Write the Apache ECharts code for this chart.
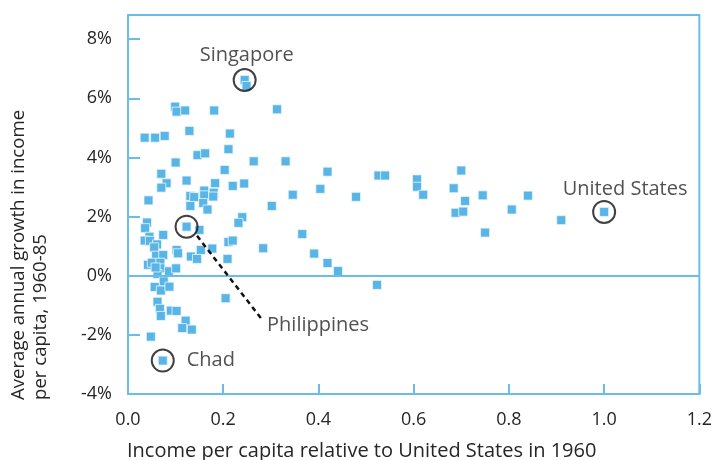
<!DOCTYPE html>
<html>
<head>
<meta charset="utf-8">
<script src="https://cdn.jsdelivr.net/npm/echarts@6/dist/echarts.min.js"></script>
<style>html,body{margin:0;padding:0;background:#fff}#c{width:715px;height:460px}</style>
</head>
<body>
<div id="c"></div>
<script>
// Income per capita relative to US in 1960 (x) vs average annual growth 1960-85 in % (y)
const incomeRel = [
0.099,0.102,0.120,0.181,0.129,0.035,0.057,0.077,0.214,0.211,
0.146,0.162,0.100,0.203,0.264,0.070,0.123,0.081,0.070,0.183,
0.220,0.244,0.160,0.180,0.131,0.139,0.160,0.179,0.043,0.158,
0.131,0.167,0.240,0.232,0.302,0.245,0.249,0.313,0.331,0.419,
0.526,0.540,0.607,0.607,0.620,0.404,0.346,0.479,0.366,0.284,
0.391,0.419,0.441,0.523,0.700,0.684,0.708,0.745,0.840,0.688,
0.704,0.806,0.910,1.000,0.750,0.040,0.036,0.123,0.150,0.074,
0.045,0.035,0.046,0.061,0.055,0.102,0.153,0.177,0.211,0.220,
0.059,0.074,0.132,0.145,0.209,0.042,0.050,0.068,0.068,0.086,
0.101,0.105,0.062,0.075,0.056,0.069,0.087,0.205,0.062,0.067,
0.090,0.102,0.069,0.121,0.114,0.134,0.048,0.073,0.058
];
const growth = [
5.72,5.55,5.59,5.59,4.90,4.67,4.67,4.73,4.81,4.28,
4.08,4.14,3.83,3.58,3.87,3.45,3.22,3.13,2.98,3.13,
3.04,3.12,2.88,2.81,2.70,2.66,2.72,2.68,2.55,2.46,
2.36,2.24,1.98,1.79,2.36,6.62,6.42,5.63,3.87,3.52,
3.39,3.39,3.26,3.01,2.74,2.94,2.74,2.67,1.41,0.93,
0.75,0.43,0.16,-0.31,3.56,2.96,2.53,2.72,2.71,2.13,
2.17,2.24,1.88,2.16,1.46,1.80,1.61,1.66,1.55,1.38,
1.32,1.19,1.18,1.06,0.96,0.87,0.87,0.92,1.14,1.19,
0.68,0.70,0.65,0.57,0.57,0.37,0.44,0.44,0.25,0.15,
0.25,0.76,0.06,-0.19,-0.38,-0.50,-0.37,-0.76,-0.88,-1.12,
-1.18,-1.19,-1.36,-1.52,-1.77,-1.82,-2.06,-2.87,0.28
];
// Highlighted countries
const hlNames = ['Singapore','United States','Philippines','Chad'];
const hlX = [0.245, 1.000, 0.123, 0.073];
const hlY = [6.62, 2.16, 1.66, -2.87];
// Philippines pointer line (start, end) and label anchor
const philLineX = [0.145, 0.279];
const philLineY = [1.35, -1.43];
const philLabelX = 0.291, philLabelY = -1.66;

const xTicks = ['0.0','0.2','0.4','0.6','0.8','1.0','1.2'];
const yTicks = ['-4%','-2%','0%','2%','4%','6%','8%'];

const BLUE = '#6bbde9';
const PT = '#5ab5e7';
const TXT = '#262626';
const FONT = '"Open Sans"';
const FS = 18;   // tick labels
const FA = 20;   // annotation labels and x title

const pts = incomeRel.map((x, i) => [x, growth[i]]);
const hl = hlNames.map((n, i) => ({name: n, value: [hlX[i], hlY[i]]}));

const labelCfg = {
  'Singapore': {position: 'top', distance: 3, offset: [2, 0]},
  'United States': {position: 'top', distance: 1, offset: [21, 0]},
  'Philippines': {show: false},
  'Chad': {position: 'right', distance: 12}
};
hl.forEach(d => {
  const c = labelCfg[d.name];
  d.label = Object.assign({show: true, formatter: '{b}'}, c);
});

const chart = echarts.init(document.getElementById('c'), null, {renderer: 'canvas'});
chart.setOption({
  animation: false,
  backgroundColor: '#fff',
  textStyle: {fontFamily: FONT},
  grid: {left: 128, right: 14, top: 15, bottom: 66, show: true, borderColor: BLUE, borderWidth: 2},
  xAxis: {
    type: 'value', min: 0, max: 1.2, interval: 0.2,
    axisLine: {show: true, onZero: false, lineStyle: {color: BLUE, width: 2}},
    axisTick: {show: true, inside: true, length: 10, lineStyle: {color: BLUE, width: 2}},
    axisLabel: {margin: 17, fontSize: FS, color: TXT, fontFamily: FONT,
      formatter: v => { const i = Math.round(v / 0.2); return Math.abs(v - i * 0.2) < 1e-6 ? xTicks[i] : ''; }},
    splitLine: {show: false}
  },
  yAxis: {
    type: 'value', min: -4, max: 8.82, interval: 2,
    axisLine: {show: true, onZero: false, lineStyle: {color: BLUE, width: 2}},
    axisTick: {show: true, inside: true, length: 12, lineStyle: {color: BLUE, width: 2}},
    axisLabel: {margin: 16, fontSize: FS, color: TXT, fontFamily: FONT,
      formatter: v => { const i = Math.round((v + 4) / 2); return Math.abs(v - (i * 2 - 4)) < 1e-6 ? yTicks[i] : ''; }},
    splitLine: {show: false}
  },
  series: [
    {
      type: 'scatter', data: pts, symbol: 'rect', symbolSize: 9,
      itemStyle: {color: PT, borderColor: '#eaf6fd', borderWidth: 0.8, opacity: 1},
      markLine: {
        silent: true, symbol: ['none', 'none'], label: {show: false},
        lineStyle: {color: BLUE, width: 2, type: 'solid'},
        data: [{yAxis: 0}]
      },
      z: 3
    },
    {
      type: 'scatter', data: hl, symbol: 'circle', symbolSize: 22,
      itemStyle: {color: 'rgba(0,0,0,0)', borderColor: '#111', borderWidth: 2},
      label: {color: TXT, fontSize: FA, fontFamily: FONT},
      markLine: {
        silent: true, symbol: ['none', 'none'], label: {show: false},
        lineStyle: {color: '#111', width: 2.5, type: [5, 4]},
        data: [[{coord: [philLineX[0], philLineY[0]]}, {coord: [philLineX[1], philLineY[1]]}]]
      },
      z: 4
    },
    {
      type: 'scatter', data: [{name: 'Philippines', value: [philLabelX, philLabelY]}],
      symbolSize: 1, itemStyle: {color: 'rgba(0,0,0,0)'},
      label: {show: true, position: 'right', distance: 0, formatter: '{b}', color: TXT, fontSize: FA, fontFamily: FONT},
      z: 4
    }
  ],
  graphic: [
    {type: 'text', x: 8, y: 400, rotation: Math.PI / 2,
      style: {text: 'Average annual growth in income\nper capita, 1960-85', fill: TXT, fontSize: 18.6, fontFamily: FONT,
        lineHeight: 22, align: 'left', verticalAlign: 'top'}},
    {type: 'text', x: 127, y: 451,
      style: {text: 'Income per capita relative to United States in 1960', fill: TXT, fontSize: FA, fontFamily: FONT,
        align: 'left', verticalAlign: 'middle'}}
  ]
});
</script>
</body>
</html>
